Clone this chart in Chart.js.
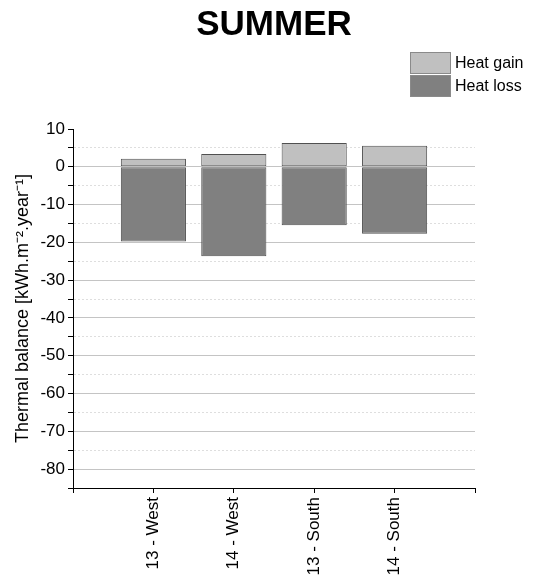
<!DOCTYPE html>
<html>
<head>
<meta charset="utf-8">
<script src="https://cdn.jsdelivr.net/npm/chart.js@4/dist/chart.umd.min.js"></script>
<style>
  html, body { margin: 0; padding: 0; background: #fff; }
  #wrap { width: 536px; height: 582px; position: relative; }
</style>
</head>
<body>
<div id="wrap"><canvas id="c" width="536" height="582"></canvas></div>
<script>
// Summer thermal balance per façade
const categories = ['13 - West', '14 - West', '13 - South', '14 - South'];
const heatGain = [2.1, 3.4, 6.3, 5.6];
const heatLoss = [-19.8, -23.7, -15.5, -17.7];
const yMin = -85, yMax = 10, yStep = 5;
const chartTitle = 'SUMMER';

// empty slots on either side give the axis its end ticks
const labels = [''].concat(categories, ['']);
const pad = arr => [null].concat(arr, [null]);

const GAIN = '#c0c0c0', LOSS = '#808080', EDGE = '#505050';
const FONT = 'Liberation Sans, Arial, sans-serif';

const isMinor = c => c.tick && c.tick.value % 10 !== 0;

// title centred over the plot area, and a vertical legend at upper right
const decorations = {
  id: 'decorations',
  afterDraw(chart) {
    const ctx = chart.ctx;
    const area = chart.chartArea;
    ctx.save();
    ctx.fillStyle = '#000';
    ctx.font = 'bold 35px ' + FONT;
    ctx.textAlign = 'center';
    ctx.textBaseline = 'middle';
    ctx.fillText(chartTitle, (area.left + area.right) / 2, 25);

    const items = chart.data.datasets.map(d => ({ text: d.label, fill: d.backgroundColor }));
    const x = 410, w = 41, h = 22;
    let y = 52;
    ctx.font = '16px ' + FONT;
    ctx.textAlign = 'left';
    items.forEach(it => {
      ctx.fillStyle = it.fill;
      ctx.fillRect(x, y, w, h);
      ctx.strokeStyle = '#8a8a8a';
      ctx.lineWidth = 1;
      ctx.strokeRect(x + 0.5, y + 0.5, w - 1, h - 1);
      ctx.fillStyle = '#000';
      ctx.fillText(it.text, x + w + 4, y + h / 2 + 1);
      y += h + 1;
    });
    ctx.restore();
  }
};

new Chart(document.getElementById('c'), {
  type: 'bar',
  data: {
    labels: labels,
    datasets: [
      { label: 'Heat gain', data: pad(heatGain), backgroundColor: GAIN,
        borderColor: EDGE, borderWidth: 1, borderSkipped: false, stack: 's' },
      { label: 'Heat loss', data: pad(heatLoss), backgroundColor: LOSS,
        borderColor: EDGE, borderWidth: 1, borderSkipped: false, stack: 's' }
    ]
  },
  options: {
    responsive: false,
    animation: false,
    layout: { padding: { left: 0, right: 61, top: 129, bottom: 0 } },
    datasets: { bar: { categoryPercentage: 0.81, barPercentage: 1.0 } },
    plugins: {
      legend: { display: false },
      tooltip: { enabled: false },
      title: { display: false }
    },
    scales: {
      x: {
        offset: false,
        afterFit: s => { s.height = 94; },
        grid: { offset: false, drawOnChartArea: false, drawTicks: true, tickLength: 5, tickColor: '#000' },
        border: { display: true, color: '#000', width: 1 },
        ticks: {
          autoSkip: false, minRotation: 90, maxRotation: 90, padding: 4,
          color: '#000', font: { family: FONT, size: 17 }
        }
      },
      y: {
        stacked: true,
        min: yMin, max: yMax,
        afterFit: s => { s.width = 73; },
        afterBuildTicks: s => {
          const t = [];
          for (let v = yMin; v <= yMax; v += yStep) t.push({ value: v });
          s.ticks = t;
        },
        border: {
          display: true, color: '#000', width: 1,
          dash: c => (isMinor(c) ? [2, 2] : [])
        },
        grid: {
          drawTicks: true, tickLength: 5,
          tickColor: '#000',
          color: c => {
            const v = c.tick && c.tick.value;
            if (v === yMax || v === yMin) return 'rgba(0,0,0,0)';
            return v % 10 === 0 ? '#c4c4c4' : '#dedede';
          },
          lineWidth: 1
        },
        ticks: {
          autoSkip: false,
          padding: 3, color: '#000',
          font: { family: FONT, size: 17 },
          callback: v => (v % 10 === 0 ? String(v) : '')
        },
        title: {
          display: true, text: 'Thermal balance [kWh.m\u207B\u00B2.year\u207B\u00B9]',
          color: '#000', font: { family: FONT, size: 18 }, padding: { top: 12, bottom: 0 }
        }
      }
    }
  },
  plugins: [decorations]
});
</script>
</body>
</html>
